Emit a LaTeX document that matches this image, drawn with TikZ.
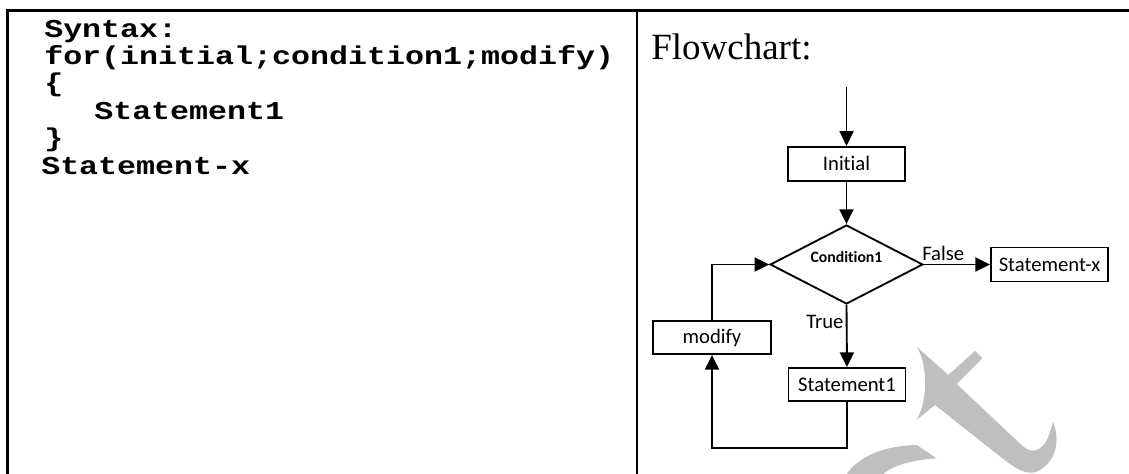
\documentclass[tikz,border=0pt]{standalone}
\usepackage{graphicx}
\usepackage{fontspec}
\setmainfont{Liberation Serif}
\newfontfamily\cali[Ligatures=NoCommon]{Carlito}
\newfontfamily\cour{Liberation Mono}
\usetikzlibrary{shapes.geometric,arrows.meta}
\newdimen\pxu \pxu=0.75pt
\begin{document}
\begin{tikzpicture}[x=0.75pt,y={(0pt,-0.75pt)},
  fbox/.style={draw,line width=1.4pt,minimum width=117\pxu,minimum height=34\pxu,inner sep=0pt,font=\cali\fontsize{15.5}{18}\selectfont},
  flow/.style={line width=1.4pt,-{Triangle[length=11pt,width=10.5pt]}},
  code/.style={anchor=base west,inner sep=0pt,font=\cour\bfseries\fontsize{19.3}{22}\selectfont},
  lbl/.style={inner sep=0pt,font=\cali\fontsize{15.5}{18}\selectfont},
  wm/.style={fill=black!25,draw=none},
  frame/.style={line width=2pt}
]
\useasboundingbox (0,0) rectangle (1129,474);
% watermark
\fill[wm] (916.7,346.7) -- (948.3,375) -- (975,351) -- (982.3,358.3) -- (956.7,384) -- (1023.3,446.7)
  .. controls (1033,455) and (1045,450) .. (1050,432) -- (1053.3,421.7)
  .. controls (1060,440) and (1057,462) .. (1036.7,471.7)
  .. controls (1028,475) and (1018,470) .. (1006.7,461.7)
  -- (935,405) -- (916.7,420)
  .. controls (928,400) and (928,365) .. cycle;
\fill[wm] (846.7,474) .. controls (858,458) and (880,446) .. (916.7,445)
  -- (936.7,458.3) .. controls (913.3,460) and (893,465) .. (883.3,474) -- cycle;
% table frame
\draw[frame] (7.2,474) -- (7.2,10.3) -- (1129,10.3);
\draw[frame] (637,10.3) -- (637,474);
% code
\node[code] (l1) at (44,37.5) {\scalebox{1.23}[1]{Syntax:}};
\node[code] (l2) at (44,65) {\scalebox{1.23}[1]{for(initial;condition1;modify)}};
\node[code] (l3) at (44,92) {\scalebox{1.23}[1]{\{}};
\node[code] (l4) at (94,119.5) {\scalebox{1.23}[1]{Statement1}};
\node[code] (l5) at (44,147) {\scalebox{1.23}[1]{\}}};
\node[code] (l6) at (41,174.5) {\scalebox{1.23}[1]{Statement-x}};
% flowchart
\node[anchor=base west,inner sep=0pt,font=\fontsize{27.75}{32}\selectfont] (title) at (651,60) {Flowchart:};
\node[fbox] (init) at (846.5,163.8) {Initial};
\node[draw,diamond,line width=1.4pt,minimum width=152.7\pxu,minimum height=79\pxu,inner sep=0pt] (cond) at (846.5,264.5) {};
\node[inner sep=0pt,font=\cali\bfseries\fontsize{11.8}{14}\selectfont] (ctext) at (846.5,257) {Condition1};
\node[fbox] (sx) at (1049.5,264.5) {Statement-x};
\node[fbox,minimum height=33\pxu] (s1) at (847,384.5) {Statement1};
\node[fbox,minimum width=118\pxu,minimum height=33\pxu] (mod) at (712,337.5) {modify};
\coordinate (start) at (846.5,87);
\coordinate (c1) at (847,448);
\coordinate (c2) at (712,448);
\coordinate (c3) at (712,264.5);
\node[lbl,anchor=base west] (false) at (922,260.5) {False};
\node[lbl,anchor=base west] (true) at (806,328) {True};
\draw[flow] (start) -- (init.north);
\draw[flow] (init.south) -- (cond.north);
\draw[flow] (cond.east) -- (sx.west);
\draw[flow] (cond.south) -- (s1.north);
\draw[flow] (s1.south) -- (c1) -- (c2) -- (mod.south);
\draw[flow] (mod.north) -- (c3) -- (cond.west);
\end{tikzpicture}
\end{document}
